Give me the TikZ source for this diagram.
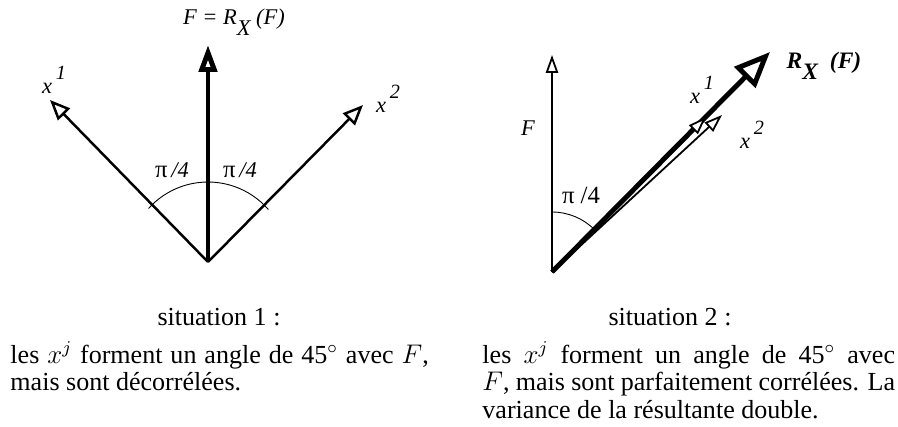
\documentclass[tikz,border=0pt]{standalone}
\usepackage{fontspec}
\setmainfont{Liberation Serif}
\usetikzlibrary{arrows.meta}

\begin{document}
\begin{tikzpicture}[x=0.01566cm,y=0.01566cm,
        vec/.style={line width=1.1pt,-{Triangle[open,fill=white,length=9pt,width=7.5pt]}},
        thinvec/.style={line width=0.8pt,-{Triangle[open,fill=white,length=8pt,width=5.5pt]}},
        bigvec/.style={line width=2.2pt,-{Triangle[open,fill=white,length=12pt,width=8pt]}},
        resvec/.style={line width=2.2pt,-{Triangle[open,fill=white,length=16pt,width=13pt]}},
        lbl/.style={font=\fontsize{10}{12}\selectfont\itshape,inner sep=0pt},
        txt/.style={font=\fontsize{11.6}{12.4}\selectfont,inner sep=0pt},
        para/.style={txt,anchor=north west,align=justify,
            execute at begin node={\setlength{\baselineskip}{12.4pt}\tolerance=5000\hyphenpenalty=10000}}]
    \useasboundingbox (0,0) rectangle (898,426);
    % situation 1
    \coordinate (O1) at (208,164);
    \coordinate (F1) at (208,381);
    \coordinate (X1) at (50,326);
    \coordinate (X2) at (363,321);
    \draw[vec] (O1) -- (X1);
    \draw[vec] (O1) -- (X2);
    \draw[bigvec] (O1) -- (F1);
    \draw[line width=0.4pt] ([shift={(41:80)}]O1) arc[start angle=41,end angle=138,radius=80];
    \node[lbl] (RF1) at (234,404) {F = R\raisebox{-5pt}{X}\ (F)};
    \node[lbl] (x1a) at (54,346) {x\,\raisebox{6pt}{\small 1}};
    \node[lbl] (x2a) at (388,327) {x\,\raisebox{6pt}{\small 2}};
    \node[lbl] (pa) at (172,256) {{\upshape\fontsize{11}{12}\selectfont π}\,/4};
    \node[lbl] (pb) at (240,256) {{\upshape\fontsize{11}{12}\selectfont π}\,/4};
    % situation 2
    \coordinate (O2) at (552,154);
    \coordinate (F2) at (552,371);
    \coordinate (R2) at (770,374);
    \coordinate (Y1) at (706,309);
    \coordinate (Y2) at (722,311);
    \draw[thinvec] (O2) -- (F2);
    \draw[resvec] (O2) -- (R2);
    \draw[thinvec] (O2) -- (Y1);
    \draw[thinvec] (O2) -- (Y2);
    \draw[line width=0.4pt] ([shift={(45:60)}]O2) arc[start angle=45,end angle=90,radius=60];
    \node[lbl] (Fb) at (528,298) {F};
    \node[lbl,font=\fontsize{11}{12}\selectfont] (pc) at (581,231) {π /4};
    \node[lbl] (y1a) at (702,336) {x\,\raisebox{6pt}{\small 1}};
    \node[lbl] (y2a) at (752,291) {x\,\raisebox{6pt}{\small 2}};
    \node[lbl,font=\fontsize{10.5}{12}\selectfont\bfseries\itshape] (RF2) at (824,360) {R\raisebox{-5pt}{X}\ \ (F)};
    % legends
    \node[txt] (s1) at (219,109) {situation 1 :};
    \node[para,text width=6.55cm] (p1) at (10,85) {les $x^j$ forment un angle de 45$^\circ$ avec $F$,\linebreak mais sont décorrélées.};
    \node[txt] (s2) at (670,109) {situation 2 :};
    \node[para,text width=6.46cm] (p2) at (482,85) {les $x^j$ forment un angle de 45$^\circ$ avec\linebreak $F$, mais sont parfaitement corrélées. La\linebreak variance de la résultante double.};
\end{tikzpicture}
\end{document}
